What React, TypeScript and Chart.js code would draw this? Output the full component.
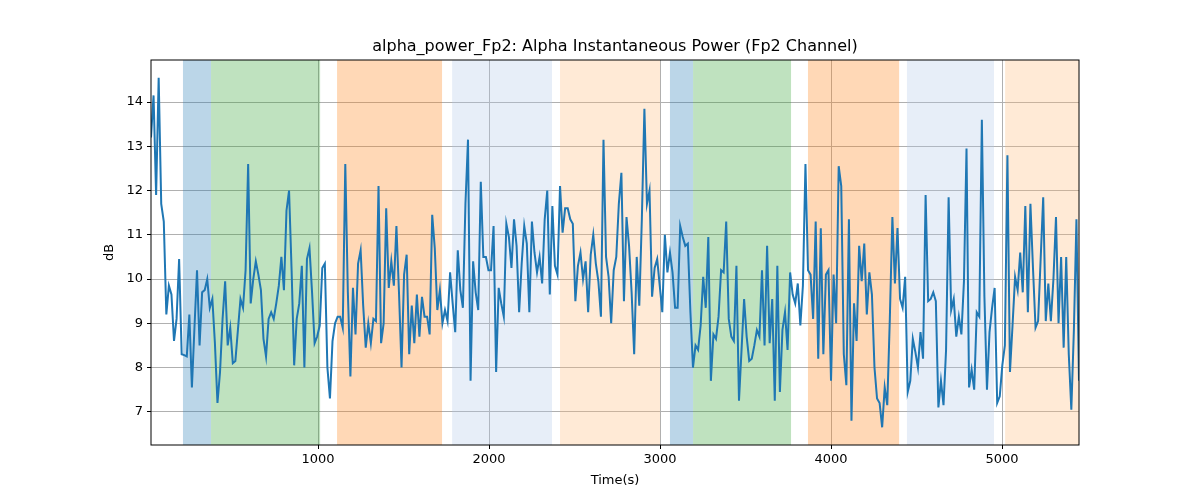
import { useEffect, useRef } from "react";
import { Chart, registerables } from "chart.js";

Chart.register(...registerables);

const alphaPower: number[] = [
  13.2, 14.15, 11.9, 14.55, 11.7, 11.3, 9.2, 9.85, 9.65, 8.6, 9.1, 10.45, 8.3, 8.28, 8.25, 9.2, 7.55, 8.9, 10.2, 8.5, 9.7, 9.75, 10.0, 9.35, 9.55,
  8.55, 7.2, 7.9, 9.1, 9.95, 8.5, 8.9, 8.1, 8.15, 8.85, 9.55, 9.35, 10.2, 12.6, 9.45, 10.0, 10.4, 10.1, 9.75, 8.65, 8.25, 9.1, 9.25, 9.1,
  9.45, 9.85, 10.5, 9.75, 11.55, 12.0, 10.2, 8.05, 9.1, 9.45, 10.3, 8.0, 10.45, 10.7, 9.7, 8.55, 8.7, 8.95, 10.25, 10.35, 8.0, 7.3,
  8.6, 9.0, 9.15, 9.15, 8.9, 12.6, 9.7, 7.8, 9.8, 8.75, 10.35, 10.65, 9.4, 8.45, 9.0, 8.55, 9.1, 9.05, 12.1, 8.55, 9.0,
  11.6, 9.8, 10.4, 9.85, 11.2, 9.7, 8.0, 10.1, 10.55, 8.3, 9.4, 8.55, 9.65, 8.7, 9.6, 9.15, 9.15, 8.75, 11.45, 10.7, 9.3, 9.75, 9.0,
  9.3, 9.05, 10.15, 9.45, 8.8, 10.65, 9.75, 9.35, 11.7, 13.15, 7.7, 10.4, 9.7, 9.3, 12.2, 10.5, 10.5, 10.2, 10.2, 11.2, 7.9, 9.8,
  9.45, 9.15, 11.25, 10.95, 10.25, 11.35, 10.75, 9.25, 10.35, 11.2, 10.8, 9.25, 11.3, 10.6, 10.15, 10.5, 9.9, 11.35, 12.0, 9.65,
  11.65, 10.3, 10.1, 12.1, 11.05, 11.6, 11.6, 11.35, 11.25, 9.5, 10.3, 10.6, 10.0, 10.4, 9.25, 10.55, 11.0, 10.35, 9.95, 9.15,
  13.15, 10.5, 10.05, 9.0, 10.2, 10.5, 11.7, 12.4, 9.5, 11.4, 10.75, 9.7, 8.3, 10.5, 9.4, 11.35, 13.85, 11.7, 12.0, 9.6, 10.25,
  10.45, 9.85, 9.25, 11.0, 10.15, 10.6, 10.15, 9.35, 9.35, 11.2, 10.95, 10.75, 10.8, 9.25, 8.0, 8.5, 8.4, 8.95, 10.05, 9.35,
  10.95, 7.7, 8.75, 8.65, 9.15, 10.2, 10.15, 11.3, 9.1, 8.7, 8.6, 10.3, 7.25, 8.4, 9.55, 8.7, 8.15, 8.2, 8.5, 8.85, 8.7, 10.2,
  8.5, 10.75, 8.55, 9.55, 7.25, 10.3, 7.45, 8.85, 9.25, 8.4, 10.15, 9.65, 9.45, 9.9, 8.95, 9.85, 12.6, 10.2, 10.1, 9.1, 11.3,
  8.2, 11.15, 8.3, 10.1, 10.2, 7.7, 10.1, 9.0, 12.55, 12.1, 8.3, 7.6, 11.35, 6.8, 9.45, 8.6, 10.75, 9.95, 10.8, 9.2, 10.15,
  9.65, 8.0, 7.3, 7.2, 6.65, 7.55, 7.15, 9.1, 11.4, 9.9, 11.15, 9.55, 9.35, 10.05, 7.45, 7.7, 8.65, 8.35, 8.0, 8.8, 8.2, 11.9,
  9.5, 9.55, 9.7, 9.5, 7.1, 7.7, 7.15, 8.4, 11.85, 9.3, 9.55, 8.7, 9.15, 8.75, 9.95, 12.95, 7.55, 7.95, 7.5, 9.25, 9.15, 13.6,
  9.6, 7.5, 8.8, 9.35, 9.8, 7.2, 7.35, 8.05, 8.5, 12.8, 7.9, 8.95, 10.05, 9.75, 10.6, 9.7, 11.65, 9.25, 11.7, 10.25, 8.9, 9.05,
  10.45, 11.85, 9.05, 9.9, 9.05, 10.0, 11.4, 9.0, 10.5, 8.45, 10.5, 8.3, 7.05, 8.85, 11.35, 7.7,
];

const tStart = 23;
const tEnd = 5450;
const times: number[] = alphaPower.map((_, i) => tStart + (i * (tEnd - tStart)) / (alphaPower.length - 1));

const spanStarts = [210, 374, 1111, 1784, 2415, 3058, 3193, 3865, 4444, 5018];
const spanEnds = [374, 1012, 1725, 2368, 3000, 3193, 3766, 4398, 4953, 5450];
const spanFills = [
  "rgba(31,119,180,0.3)",
  "rgba(44,160,44,0.3)",
  "rgba(255,127,14,0.3)",
  "rgba(174,199,232,0.3)",
  "rgba(255,187,120,0.3)",
  "rgba(31,119,180,0.3)",
  "rgba(44,160,44,0.3)",
  "rgba(255,127,14,0.3)",
  "rgba(174,199,232,0.3)",
  "rgba(255,187,120,0.3)",
];

const xTicks = [1000, 2000, 3000, 4000, 5000];
const yTicks = [7, 8, 9, 10, 11, 12, 13, 14];

const FONT = "'DejaVu Sans', sans-serif";

const spansPlugin = {
  id: "spans",
  beforeDatasetsDraw(chart: any) {
    const { ctx, chartArea, scales } = chart;
    ctx.save();
    spanStarts.forEach((s, i) => {
      const x0 = scales.x.getPixelForValue(s);
      const x1 = scales.x.getPixelForValue(spanEnds[i]);
      ctx.fillStyle = spanFills[i];
      ctx.fillRect(x0, chartArea.top, x1 - x0, chartArea.bottom - chartArea.top);
    });
    ctx.restore();
  },
  afterDraw(chart: any) {
    const { ctx, chartArea } = chart;
    ctx.save();
    ctx.strokeStyle = "#000";
    ctx.lineWidth = 1;
    ctx.strokeRect(chartArea.left, chartArea.top, chartArea.right - chartArea.left, chartArea.bottom - chartArea.top);
    ctx.fillStyle = "#000";
    ctx.font = `16px ${FONT}`;
    ctx.textAlign = "center";
    ctx.textBaseline = "bottom";
    const cx = (chartArea.left + chartArea.right) / 2;
    ctx.fillText("alpha_power_Fp2: Alpha Instantaneous Power (Fp2 Channel)", cx, chartArea.top - 5);
    ctx.font = `13px ${FONT}`;
    ctx.textBaseline = "middle";
    ctx.fillText("Time(s)", cx, 481);
    ctx.translate(110, (chartArea.top + chartArea.bottom) / 2);
    ctx.rotate(-Math.PI / 2);
    ctx.fillText("dB", 0, 0);
    ctx.restore();
  },
};

export default function App() {
  const ref = useRef<HTMLCanvasElement | null>(null);

  useEffect(() => {
    if (!ref.current) return;
    const chart = new Chart(ref.current, {
      type: "line",
      data: {
        datasets: [
          {
            data: times.map((t, i) => ({ x: t, y: alphaPower[i] })),
            borderColor: "#1f77b4",
            borderWidth: 2,
            pointRadius: 0,
            tension: 0,
          },
        ],
      },
      options: {
        responsive: false,
        animation: false,
        layout: { padding: { top: 60, right: 121, left: 0, bottom: 0 } },
        plugins: { legend: { display: false }, tooltip: { enabled: false } },
        scales: {
          x: {
            type: "linear",
            min: tStart,
            max: tEnd,
            afterBuildTicks: (s: any) => {
              s.ticks = xTicks.map((v) => ({ value: v }));
            },
            afterFit: (s: any) => {
              s.height = 55;
            },
            grid: { color: "#b0b0b0", drawTicks: true, tickLength: 4, tickColor: "#000" },
            border: { display: false },
            ticks: { color: "#000", font: { family: FONT, size: 13 }, maxRotation: 0, padding: 3, callback: (v: any) => String(v) },
          },
          y: {
            type: "linear",
            min: 6.25,
            max: 14.95,
            afterBuildTicks: (s: any) => {
              s.ticks = yTicks.map((v) => ({ value: v }));
            },
            afterFit: (s: any) => {
              s.width = 151;
            },
            grid: { color: "#b0b0b0", drawTicks: true, tickLength: 4, tickColor: "#000" },
            border: { display: false },
            ticks: { color: "#000", font: { family: FONT, size: 13 }, padding: 4, callback: (v: any) => String(v) },
          },
        },
      },
      plugins: [spansPlugin],
    });
    return () => chart.destroy();
  }, []);

  return (
    <div style={{ position: "absolute", left: 0, top: 0, width: 1200, height: 500, background: "#fff" }}>
      <canvas ref={ref} width={1200} height={500} />
    </div>
  );
}
